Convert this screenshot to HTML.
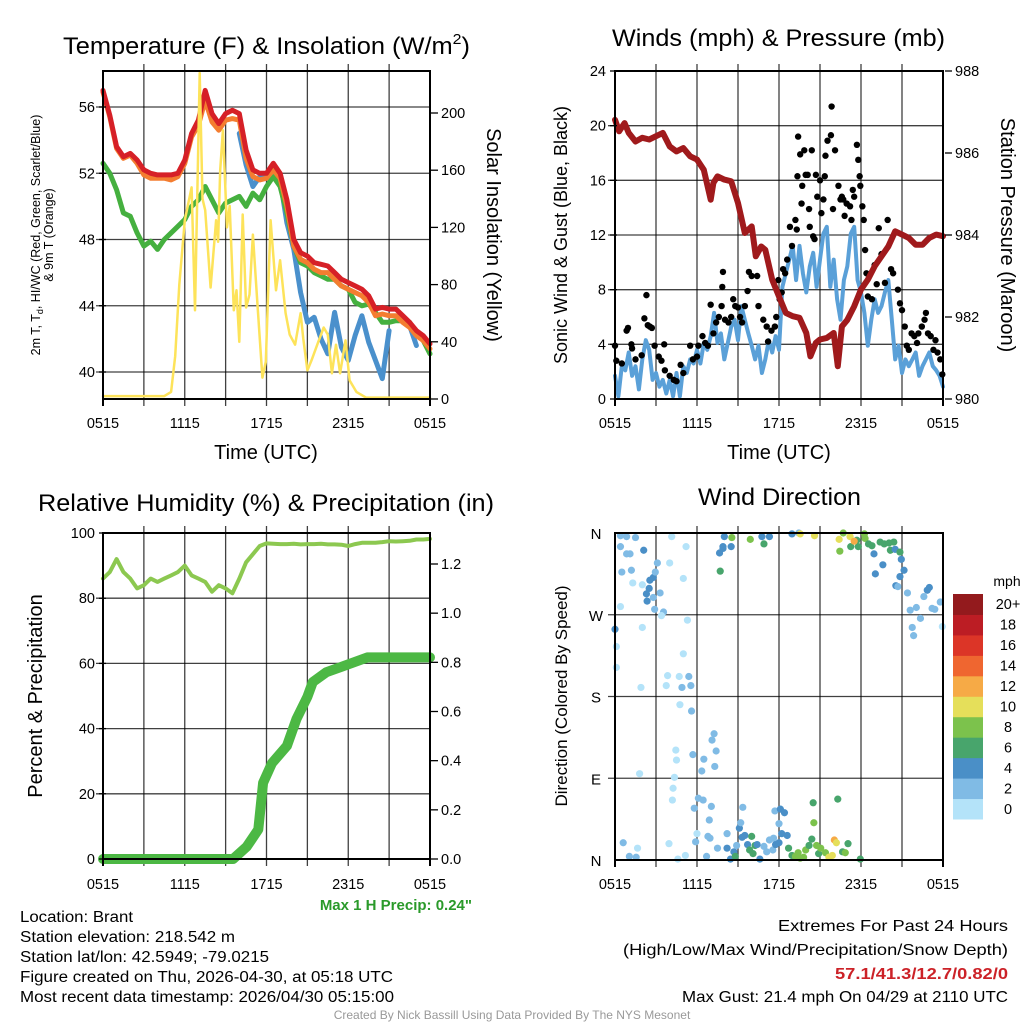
<!DOCTYPE html>
<html><head><meta charset="utf-8">
<style>
html,body{margin:0;padding:0;background:#fff;}
svg{display:block;font-family:"Liberation Sans",Arial,sans-serif;}
</style></head>
<body>
<svg id="fig" width="1024" height="1024" viewBox="0 0 1024 1024" xmlns="http://www.w3.org/2000/svg">
<rect x="0" y="0" width="1024" height="1024" fill="#fff"/>
<g id="layer"></g>
<!-- titles -->
<text x="63" y="54" font-size="24" textLength="407" lengthAdjust="spacingAndGlyphs">Temperature (F) &amp; Insolation (W/m<tspan font-size="15" dy="-10">2</tspan><tspan dy="10">)</tspan></text>
<text x="612" y="46" font-size="24" textLength="333" lengthAdjust="spacingAndGlyphs">Winds (mph) &amp; Pressure (mb)</text>
<text x="38" y="511" font-size="24" textLength="456" lengthAdjust="spacingAndGlyphs">Relative Humidity (%) &amp; Precipitation (in)</text>
<text x="698" y="505" font-size="24" textLength="163" lengthAdjust="spacingAndGlyphs">Wind Direction</text>
<!-- axis titles -->
<text x="266" y="459" font-size="20" text-anchor="middle">Time (UTC)</text>
<text x="779" y="459" font-size="20" text-anchor="middle">Time (UTC)</text>
<text transform="translate(40,235) rotate(-90)" font-size="12.5" text-anchor="middle">2m T, T<tspan font-size="9" dy="3">d</tspan><tspan dy="-3">, HI/WC (Red, Green, Scarlet/Blue)</tspan></text>
<text transform="translate(53,235) rotate(-90)" font-size="12.5" text-anchor="middle">&amp; 9m T (Orange)</text>
<text transform="translate(487,235) rotate(90)" font-size="20" text-anchor="middle">Solar Insolation (Yellow)</text>
<text transform="translate(567,235) rotate(-90)" font-size="18" text-anchor="middle">Sonic Wind &amp; Gust (Blue, Black)</text>
<text transform="translate(1001,235) rotate(90)" font-size="20" text-anchor="middle">Station Pressure (Maroon)</text>
<text transform="translate(42,696) rotate(-90)" font-size="20" text-anchor="middle">Percent &amp; Precipitation</text>
<text transform="translate(567,696) rotate(-90)" font-size="17" text-anchor="middle">Direction (Colored By Speed)</text>
<!-- bottom text -->
<text x="472" y="910" font-size="15" font-weight="bold" fill="#2a9a2a" text-anchor="end">Max 1 H Precip: 0.24"</text>
<g font-size="15.5">
<text x="20" y="922" textLength="113" lengthAdjust="spacingAndGlyphs">Location: Brant</text>
<text x="20" y="942" textLength="215" lengthAdjust="spacingAndGlyphs">Station elevation: 218.542 m</text>
<text x="20" y="962" textLength="249" lengthAdjust="spacingAndGlyphs">Station lat/lon: 42.5949; -79.0215</text>
<text x="20" y="982" textLength="373" lengthAdjust="spacingAndGlyphs">Figure created on Thu, 2026-04-30, at 05:18 UTC</text>
<text x="20" y="1002" textLength="374" lengthAdjust="spacingAndGlyphs">Most recent data timestamp: 2026/04/30 05:15:00</text>
</g>
<g font-size="16">
<text x="1008" y="931" text-anchor="end" textLength="230" lengthAdjust="spacingAndGlyphs">Extremes For Past 24 Hours</text>
<text x="1008" y="955" text-anchor="end" textLength="385" lengthAdjust="spacingAndGlyphs">(High/Low/Max Wind/Precipitation/Snow Depth)</text>
<text x="1008" y="979" text-anchor="end" fill="#cc2228" font-weight="bold" textLength="173" lengthAdjust="spacingAndGlyphs">57.1/41.3/12.7/0.82/0</text>
<text x="1008" y="1002" text-anchor="end" textLength="326" lengthAdjust="spacingAndGlyphs">Max Gust: 21.4 mph On 04/29 at 2110 UTC</text>
</g>
<text x="512" y="1019" font-size="12" fill="#999" text-anchor="middle">Created By Nick Bassill Using Data Provided By The NYS Mesonet</text>
</svg>
<script>
// ---------- DATA ----------
const xTickLabels = ["0515","1115","1715","2315","0515"];
const halfHours = [0,0.5,1,1.5,2,2.5,3,3.5,4,4.5,5,5.5,6,6.5,7,7.5,8,8.5,9,9.5,10,10.5,11,11.5,12,12.5,13,13.5,14,14.5,15,15.5,16,16.5,17,17.5,18,18.5,19,19.5,20,20.5,21,21.5,22,22.5,23,23.5,24];
const tempRed = [57.0,55.5,53.6,53.0,53.2,52.8,52.2,52.0,51.9,51.9,51.9,52.0,52.8,54.4,55.2,57.0,55.6,55.0,55.6,55.8,55.6,53.4,52.2,52.0,52.0,52.6,52.0,50.4,48.0,47.2,47.0,46.6,46.5,46.4,46.0,45.6,45.4,45.2,45.0,44.6,43.8,43.9,43.8,43.8,43.4,43.0,42.5,42.2,41.7];
const tempOrange = [56.9,55.4,53.5,52.9,53.1,52.6,51.9,51.7,51.7,51.7,51.6,51.8,52.6,54.2,54.9,56.4,55.1,54.6,55.2,55.3,55.2,52.9,51.8,51.6,51.7,52.2,51.7,50.0,47.6,46.8,46.6,46.2,46.0,46.0,45.6,45.2,45.0,44.8,44.6,44.2,43.4,43.5,43.4,43.4,43.0,42.7,42.2,41.9,41.4];
const tempGreen = [52.6,52.0,51.0,49.6,49.4,48.4,47.6,47.9,47.4,48.0,48.4,48.8,49.2,50.0,50.4,51.2,50.4,49.6,50.2,50.4,50.6,50.0,50.8,50.4,51.2,51.8,51.2,49.6,47.6,46.6,46.4,46.0,45.8,45.6,45.6,45.2,45.0,44.2,44.0,44.1,43.6,43.0,43.0,43.1,43.1,43.0,42.3,41.9,41.1];
const tempBlue = [null,null,null,null,null,null,null,null,null,null,null,null,null,null,null,null,null,null,null,null,54.4,52.5,51.2,51.8,51.7,52.2,51.6,49.0,47.4,44.8,43.0,43.3,42.0,41.1,43.6,41.5,40.7,42.2,43.4,41.8,40.7,39.6,42.5,null,null,42.8,41.6,null,null];
const solarHours = [0,4.5,5.0,5.3,5.6,6.0,6.5,6.75,7.1,7.3,7.5,7.9,8.3,8.45,8.6,8.8,9.1,9.3,9.6,9.8,10.0,10.25,10.5,10.75,11.0,11.3,11.7,11.95,12.3,12.7,13.0,13.4,13.7,14.1,14.5,14.7,15.0,15.3,15.8,16.2,16.5,16.8,17.1,17.4,17.8,18.1,18.6,19.3,24];
const solarVals = [2,2,5,30,80,125,148,62,228,140,132,78,125,110,160,188,120,135,62,76,40,129,64,73,115,71,15,26,125,76,97,60,45,38,60,42,20,27,40,50,45,18,38,18,41,13,5,1,1];
const windHours = [0,0.25,0.5,0.75,1,1.25,1.5,1.75,2,2.25,2.5,2.75,3,3.25,3.5,3.75,4,4.25,4.5,4.75,5,5.25,5.5,5.75,6,6.25,6.5,6.75,7,7.25,7.5,7.75,8,8.25,8.5,8.75,9,9.25,9.5,9.75,10,10.25,10.5,10.75,11,11.25,11.5,11.75,12,12.25,12.5,12.75,13,13.25,13.5,13.75,14,14.25,14.5,14.75,15,15.25,15.5,15.75,16,16.25,16.5,16.75,17,17.25,17.5,17.75,18,18.25,18.5,18.75,19,19.25,19.5,19.75,20,20.25,20.5,20.75,21,21.25,21.5,21.75,22,22.25,22.5,22.75,23,23.25,23.5,23.75,24];
const windSpeed = [1.7,0.2,2.4,2.1,3.4,1.7,2.4,0.7,2.9,4.3,3.6,1.4,1.9,0.9,1.4,0.4,1.4,0.2,1.9,0.2,2.4,1.9,2.9,2.6,3.6,2.6,4.1,3.6,4.6,6.3,4.1,4.8,2.9,4.1,5.3,5.8,4.3,6.8,5.8,4.8,3.9,2.9,3.9,1.9,2.9,4.3,3.4,4.6,3.6,8.2,9.2,10.2,11.2,8.7,11.2,9.2,7.8,9.7,10.7,8.2,10.2,12.1,12.6,8.2,10.2,7.3,5.8,8.7,9.7,12.1,12.6,8.7,7.8,6.3,3.9,5.8,7.3,6.3,6.8,7.8,8.7,5.8,2.9,3.9,1.9,2.9,2.4,2.9,3.4,1.7,2.4,2.9,3.4,2.4,2.1,1.7,0.9];
const gustHours = [0,0.1,0.5,0.85,0.95,1.2,1.25,1.5,1.95,2.15,2.3,2.4,2.55,2.7,2.9,3.2,3.4,3.6,3.65,4.0,4.3,4.5,4.8,5.0,5.5,5.7,6.0,6.1,6.4,6.6,6.8,7.0,7.2,7.4,7.6,7.8,7.85,7.9,8.05,8.3,8.5,8.65,8.8,9.0,9.15,9.3,9.5,9.7,9.8,10.0,10.4,10.5,10.85,11.1,11.2,11.45,11.7,11.8,11.95,12.05,12.2,12.3,12.45,12.6,12.8,12.95,13.2,13.3,13.35,13.4,13.55,13.65,13.7,13.85,13.95,14.1,14.2,14.25,14.4,14.5,14.6,14.7,14.8,15.0,15.1,15.25,15.35,15.4,15.55,15.8,15.85,15.95,16.1,16.35,16.5,16.6,16.7,16.8,16.95,17.2,17.3,17.4,17.5,17.7,17.8,17.9,17.95,18.1,18.2,18.3,18.4,18.5,18.8,19.0,19.15,19.3,19.5,19.75,19.95,20.2,20.35,20.7,20.85,21.0,21.2,21.35,21.5,21.7,21.9,22.1,22.2,22.45,22.65,22.75,22.9,23.1,23.3,23.45,23.6,23.8,23.95];
const gustSpeed = [3.9,2.8,2.6,5.0,5.2,4.0,3.7,2.9,3.2,5.9,7.6,5.4,5.3,5.2,3.9,3.1,2.8,4.0,2.1,1.7,1.4,1.3,2.5,1.9,3.9,2.9,3.1,3.9,4.6,4.1,3.9,6.9,4.8,5.6,6.0,6.8,8.2,9.3,5.8,5.6,6.0,7.3,6.8,6.7,6.0,5.6,6.8,7.9,9.3,9.0,9.0,6.8,5.8,5.3,4.2,5.0,5.3,6.0,8.7,7.3,7.8,9.5,9.2,10.2,12.6,11.2,13.1,12.4,16.3,19.2,17.9,14.3,15.6,18.2,16.4,16.4,13.9,12.6,18.2,11.9,11.7,16.4,14.8,16.0,13.6,14.6,16.3,17.8,18.9,19.3,21.4,13.9,18.2,15.6,14.6,14.8,14.6,13.4,14.3,14.1,13.1,15.3,14.8,18.6,17.5,16.3,15.6,14.1,13.1,10.9,9.2,7.5,7.3,9.8,8.4,12.5,10.6,8.5,13.1,9.5,9.2,8.0,7.0,6.5,5.3,3.9,3.6,4.8,4.6,4.1,4.8,5.3,5.8,6.3,4.8,4.6,3.6,4.3,3.4,2.9,1.8];
const pressHours = [0,0.3,0.7,1,1.5,2,2.5,3,3.5,4,4.5,5,5.5,6,6.5,7,7.2,7.5,8,8.5,9,9.5,10,10.3,10.7,11,11.5,12,12.5,13,13.5,14,14.3,14.7,15,15.5,16,16.3,16.6,17,17.5,18,18.5,19,19.5,20,20.5,21,21.5,22,22.5,23,23.5,24];
const pressVals = [986.81,986.53,986.73,986.49,986.28,986.37,986.33,986.41,986.49,986.16,986.04,986.12,985.92,985.84,985.59,984.86,985.27,985.43,985.35,985.31,984.78,984.05,984.21,983.48,983.72,983.64,982.91,982.50,982.10,982.02,981.98,981.61,981.04,981.37,981.45,981.49,981.61,980.80,981.77,981.93,982.26,982.67,982.91,983.24,983.48,983.72,984.09,984.01,983.93,983.76,983.76,983.93,984.01,983.97];
const dirHours = [0.4,0.85,1.5,0.4,0.85,1.1,0.5,1.2,1.3,2.1,2.0,2.55,2.8,2.95,2.5,2.3,2.35,2.8,3.3,2.9,3.55,3.4,3.1,4.0,4.15,5.2,5.0,0.4,0,0.1,0.1,2.0,1.9,5.3,5.0,3.85,4.7,5.4,3.75,4.9,5.55,4.75,5.6,7.25,7.1,7.4,4.45,4.5,5.7,6.5,6.35,7.3,4.35,4.25,4.2,1.8,6.1,5.8,6.45,7.05,6.9,6.0,5.9,0.6,1.65,1.05,1.55,3.95,4.6,5.15,6.7,6.8,6.95,7.5,8.2,8.2,8.45,8.7,8.8,8.9,9.1,9.2,9.35,9.3,9.5,9.7,9.85,10.0,10.1,10.25,10.4,10.6,10.9,11.1,11.3,11.55,11.6,11.75,12.0,11.7,12.1,12.4,12.0,12.2,12.6,12.7,12.95,13.2,13.4,13.55,13.8,13.95,14.2,14.4,14.5,14.55,14.75,14.9,15.05,15.4,15.65,15.9,16.05,16.2,16.3,16.65,16.85,17.05,17.95,8.0,8.55,8.5,7.65,7.9,7.9,7.7,9.9,10.75,10.9,11.3,12.95,13.45,13.55,14.6,16.4,16.7,16.45,17.2,17.25,17.7,17.8,17.5,18.25,18.3,18.55,18.8,18.95,19.05,19.6,19.4,19.7,20.05,20.15,20.4,20.5,20.85,20.95,21.15,20.85,20.55,20.7,21.4,21.6,21.75,21.85,22.05,22.35,22.6,22.85,23.0,23.2,23.4,23.8,23.95];
const dirDeg = [357,356,355,345,337,337,317,319,305,341,303,308,311,317,299,293,285,289,294,276,273,269,327,327,356,345,310,279,254,235,212,256,190,264,227,203,202,202,192,190,192,171,164,139,132,120,121,110,116,111,98,103,91,79,66,95,68,57,66,59,44,29,20,19,13,4,3,18,1,5,4,26,24,13,29,13,1,9,4,16,35,41,58,25,27,17,11,26,7,16,17,1,15,9,22,11,24,17,19,54,56,52,40,29,27,13,5,4,8,2,3,11,16,23,63,41,16,7,13,8,3,5,22,19,67,9,8,18,1,356,355,345,338,343,345,318,353,356,348,356,359,360,359,357,353,360,340,356,345,352,345,351,359,354,348,346,337,315,325,350,348,349,341,350,342,339,331,319,312,302,301,294,275,256,247,278,266,290,297,300,277,276,284,257];
const dirSpeed = [3,3,3,3,3,3,3,3,1,5,1,5,5,3,5,5,5,3,3,3,3,1,3,1,1,1,1,1,5,1,1,1,1,1,1,1,1,3,1,3,3,1,3,3,3,3,1,1,3,3,3,3,1,1,1,1,3,3,3,3,3,1,3,3,1,3,3,1,1,1,3,3,3,3,3,5,5,5,7,3,5,3,3,5,5,5,7,7,7,7,5,5,3,3,3,3,3,5,5,3,5,5,3,5,5,7,7,9,9,9,9,9,7,7,7,9,9,7,9,9,10,10,13,11,7,7,9,7,7,5,9,5,5,5,5,7,9,5,7,5,5,3,10,10,10,8,9,10,7,7,7,13,9,9,7,7,5,5,5,7,7,7,7,7,5,7,5,5,5,5,3,3,3,3,3,3,3,3,5,5,3,3,3,1];
const speedBinLabels = ["0","2","4","6","8","10","12","14","16","18","20+"];
const speedBinColors = ["#b4e3f9","#80bbe5","#4a8fc7","#48a56c","#7cc24c","#e5df5a","#f6aa46","#ef6630","#dc3527","#bc1d24","#931a1d"];
const rhVals = [86,88,92,88,86,83,84,86,85,86,87,88,90,87,86,85,82,84,83,81.5,86,91,93.5,96,96.8,96.7,96.6,96.6,96.7,96.5,96.6,96.6,96.7,96.5,96.5,96.4,96.0,96.6,97.0,97.0,97.0,97.2,97.5,97.4,97.5,97.6,98.0,98.0,98.2];
const precipHours = [0,9.55,10.55,11.4,11.75,12.4,13.5,14.2,15.0,15.4,16.4,17.4,19.4,24];
const precipVals = [0,0,0.05,0.12,0.31,0.39,0.46,0.57,0.66,0.72,0.76,0.78,0.82,0.82];

// ---------- RENDER ----------
const NS = "http://www.w3.org/2000/svg";
const layer = document.getElementById('layer');
function mk(tag, attrs, parent){
  const e = document.createElementNS(NS, tag);
  for (const k in attrs) e.setAttribute(k, attrs[k]);
  (parent||layer).appendChild(e);
  return e;
}
function lin(d0,d1,r0,r1){ return v => r0 + (v-d0)/(d1-d0)*(r1-r0); }
function linePath(xs, ys, sx, sy){
  let d = "", pen = false;
  for (let i=0;i<xs.length;i++){
    if (ys[i]===null || ys[i]===undefined){ pen=false; continue; }
    d += (pen?"L":"M") + sx(xs[i]).toFixed(1) + " " + sy(ys[i]).toFixed(1) + " ";
    pen = true;
  }
  return d;
}
function frame(L,T,R,B,hGrid,sy,name){
  const g = mk('g',{});
  
  
  for (let k=1;k<8;k++){
    const x = L + (R-L)*k/8;
    mk('line',{x1:x,y1:T-7,x2:x,y2:B+7,stroke:'#000','stroke-width':1.3,'stroke-opacity':0.75},g);
  }
  hGrid.forEach(v=>{ const y=sy(v); mk('line',{x1:L-7,y1:y,x2:R,y2:y,stroke:'#000','stroke-width':1.3,'stroke-opacity':0.75},g); });
  return g;
}
function border(L,T,R,B,name){
  const r = mk('rect',{x:L,y:T,width:R-L,height:B-T,fill:'none',stroke:'#000','stroke-width':2});
  
  
  mk('line',{x1:L,y1:T,x2:L,y2:B+7,stroke:'#000','stroke-width':2});
  mk('line',{x1:R,y1:T,x2:R,y2:B+7,stroke:'#000','stroke-width':2});
}
function xLabels(L,R,y,name){
  const sx = lin(0,24,L,R);
  xTickLabels.forEach((t,i)=>{
    const e = mk('text',{x:sx(i*6),y:y,'font-size':14.5,'text-anchor':'middle'});
    
    
    e.textContent = t;
  });
}
function yLabels(vals, sy, x, anchor, name, fmt){
  vals.forEach(v=>{
    const e = mk('text',{x:x,y:sy(v)+5,'font-size':14.5,'text-anchor':anchor});
    
    
    e.textContent = fmt ? fmt(v) : String(v);
    mk('line',{x1:anchor==='end'?x+4:x-10,y1:sy(v),x2:anchor==='end'?x+11:x-3,y2:sy(v),stroke:'#000','stroke-width':1.3});
  });
}
function line(xs,ys,sx,sy,color,w,name){
  const p = mk('path',{d:linePath(xs,ys,sx,sy),fill:'none',stroke:color,'stroke-width':w,'stroke-linejoin':'round','stroke-linecap':'round'});
  
  
  return p;
}

// Panel 1: temperature
(function(){
  const L=103,T=71,R=430,B=399;
  const sx = lin(0,24,L,R), sy = lin(40,56,372,107), sr = lin(0,200,399,113);
  frame(L,T,R,B,[40,44,48,52,56],sy,'temp');
  line(halfHours,tempBlue,sx,sy,'#4a90cc',5,'temp-blue-line');
  line(halfHours,tempGreen,sx,sy,'#45b03f',5,'temp-green-line');
  line(halfHours,tempOrange,sx,sy,'#f47d30',5,'temp-orange-line');
  line(halfHours,tempRed,sx,sy,'#d62027',5,'temp-red-line');
  line(solarHours,solarVals,sx,sr,'#fde35a',2.5,'solar-yellow-line');
  border(L,T,R,B,'temp');
  yLabels([40,44,48,52,56],sy,95,'end','temp-left-y');
  yLabels([0,40,80,120,160,200],sr,441,'start','solar-right-y');
  xLabels(L,R,428,'temp');
})();

// Panel 2: winds & pressure
(function(){
  const L=615,T=71,R=943,B=399;
  const sx = lin(0,24,L,R), sy = lin(0,24,B,T), sp = lin(980,988,B,T);
  frame(L,T,R,B,[4,8,12,16,20],sy,'winds');
  line(windHours,windSpeed,sx,sy,'#5aa0d8',4,'wind-speed-line');
  gustHours.forEach((h,i)=>{
    const c = mk('circle',{cx:sx(h),cy:sy(gustSpeed[i]),r:3.2,fill:'#000'});
    
    
  });
  line(pressHours,pressVals,sx,sp,'#a01a1c',6,'pressure-line');
  border(L,T,R,B,'winds');
  yLabels([0,4,8,12,16,20,24],sy,606,'end','wind-left-y');
  yLabels([980,982,984,986,988],sp,955,'start','pressure-right-y');
  xLabels(L,R,428,'winds');
})();

// Panel 3: RH & precip
(function(){
  const L=103,T=533,R=430,B=859;
  const sx = lin(0,24,L,R), sy = lin(0,100,B,T), sp = lin(0,1.2,B,564);
  frame(L,T,R,B,[20,40,60,80],sy,'rh');
  line(halfHours,rhVals,sx,sy,'#8cc850',4,'rh-line');
  line(precipHours,precipVals,sx,sp,'#4cb844',10,'precip-line');
  border(L,T,R,B,'rh');
  yLabels([0,20,40,60,80,100],sy,95,'end','rh-left-y');
  yLabels([0,0.2,0.4,0.6,0.8,1.0,1.2],sp,441,'start','precip-right-y',v=>v.toFixed(1));
  xLabels(L,R,889,'rh');
})();

// Panel 4: wind direction
(function(){
  const L=615,T=533,R=943,B=860;
  const sx = lin(0,24,L,R), sy = lin(0,360,B,T);
  frame(L,T,R,B,[90,180,270],sy,'direction');
  dirHours.forEach((h,i)=>{
    const bin = Math.min(10, Math.floor(dirSpeed[i]/2));
    const c = mk('circle',{cx:sx(h),cy:sy(dirDeg[i]),r:3.6,fill:speedBinColors[bin]});
    
    
  });
  border(L,T,R,B,'direction');
  const dl = ["N","E","S","W","N"];
  [0,90,180,270,360].forEach((d,i)=>{
    const e = mk('text',{x:596,y:sy(d)+6,'font-size':15,'text-anchor':'middle'});
    
    
    e.textContent = dl[i];
  });
  xLabels(L,R,889,'direction');
  // colorbar
  const cbT=594, cbB=819, cbX=953, cbW=30, h=(cbB-cbT)/speedBinColors.length;
  const t = mk('text',{x:1007,y:586,'font-size':14,'text-anchor':'middle'});
  
  
  t.textContent = 'mph';
  speedBinColors.forEach((c,i)=>{
    const y = cbB - (i+1)*h;
    const r = mk('rect',{x:cbX,y:y,width:cbW,height:h+0.5,fill:c});
    
    
    const lb = mk('text',{x:1008,y:y+h/2+5,'font-size':14.5,'text-anchor':'middle'});
    
    
    lb.textContent = speedBinLabels[i];
  });
})();
</script>
</body></html>
